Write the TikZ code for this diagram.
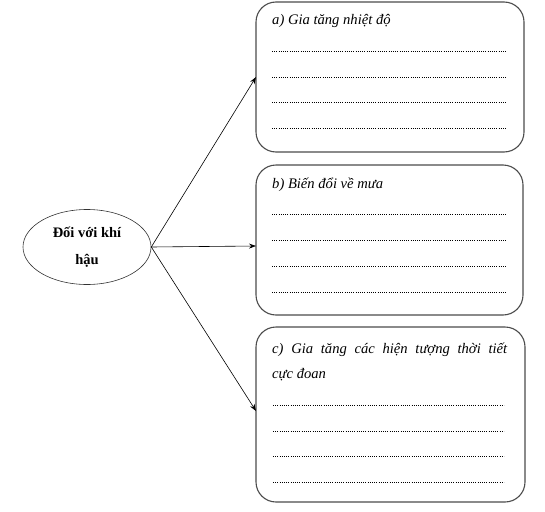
\documentclass[tikz,border=0pt]{standalone}
\usepackage{fontspec}
\setmainfont{Liberation Serif}
\usetikzlibrary{shapes.geometric,arrows.meta}
\begin{document}
\begin{tikzpicture}[x=1pt,y=-1pt,
  bubble/.style={draw=black!80,line width=0.6pt,ellipse,minimum width=128pt,minimum height=75pt,inner sep=0pt,
    align=center,font=\fontsize{14.5}{27}\selectfont\bfseries},
  card/.style={draw=black!70,line width=1.1pt,rounded corners=20pt,inner sep=0pt},
  label/.style={anchor=base west,inner sep=0pt,font=\fontsize{14.6}{18}\selectfont\itshape},
  dotline/.style={line width=0.6pt,dash pattern=on 0.9pt off 1.3pt},
  link/.style={line width=0.6pt,-{Stealth[length=7pt,width=5pt]}}]
\useasboundingbox (0,0) rectangle (545,511);
\node[bubble] (e) at (87,247) {Đối với khí\\hậu};
\node[card,minimum width=268pt,minimum height=150pt] (ba) at (390,77) {};
\node[card,minimum width=267pt,minimum height=150pt] (bb) at (389.5,240) {};
\node[card,minimum width=269pt,minimum height=175pt] (bc) at (390.5,414.5) {};
\coordinate (ta) at (256,77);
\coordinate (tb) at (256,246);
\coordinate (tc) at (256,411);
\draw[link] (e.east) -- (ta);
\draw[link] (e.east) -- (tb);
\draw[link] (e.east) -- (tc);
\node[label] (la) at (272,25) {a) Gia tăng nhiệt độ};
\node[label] (lb) at (272,188) {b) Biến đổi về mưa};
\node[label] (lc1) at (272,353) {\makebox[235pt][s]{c) Gia tăng các hiện tượng thời tiết}};
\node[label] (lc2) at (272,378) {cực đoan};
\foreach \y in {51,77,102,128} \draw[dotline] (272,\y) -- (506,\y);
\foreach \y in {214,240,266,292} \draw[dotline] (272,\y) -- (506,\y);
\foreach \y in {405,431,456,482} \draw[dotline] (273,\y) -- (504,\y);
\end{tikzpicture}
\end{document}
